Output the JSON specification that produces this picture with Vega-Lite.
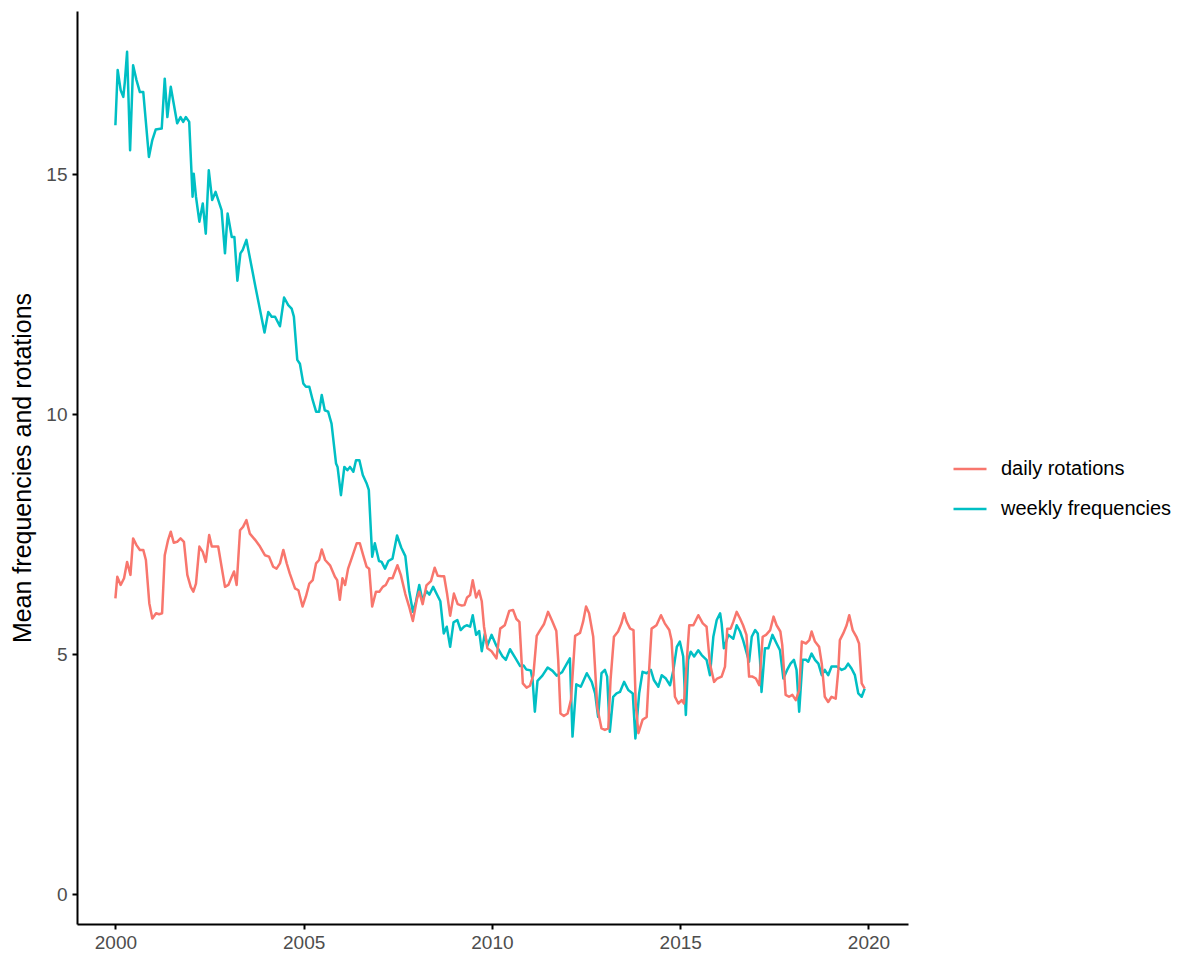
{
  "$schema": "https://vega.github.io/schema/vega-lite/v6.json",
  "autosize": "none",
  "width": 831,
  "height": 913,
  "padding": {"left": 77, "top": 11, "right": 281, "bottom": 33},
  "background": "white",
  "config": {
    "view": {"stroke": null},
    "font": "Liberation Sans",
    "axis": {
      "grid": false,
      "domainColor": "black",
      "domainWidth": 2,
      "tickColor": "black",
      "tickWidth": 2,
      "tickSize": 5,
      "labelFont": "Liberation Sans",
      "labelFontSize": 19,
      "labelColor": "#4d4d4d",
      "titleFont": "Liberation Sans",
      "titleFontSize": 25,
      "titleFontWeight": "normal",
      "titleColor": "black"
    },
    "legend": {
      "labelFont": "Liberation Sans",
      "labelFontSize": 20,
      "labelColor": "black",
      "labelLimit": 0
    }
  },
  "data": {
    "values": [
      {"series": "weekly frequencies", "year": 2000.00, "value": 16.02},
      {"series": "weekly frequencies", "year": 2000.06, "value": 17.17},
      {"series": "weekly frequencies", "year": 2000.14, "value": 16.75},
      {"series": "weekly frequencies", "year": 2000.21, "value": 16.61},
      {"series": "weekly frequencies", "year": 2000.25, "value": 16.92},
      {"series": "weekly frequencies", "year": 2000.31, "value": 17.55},
      {"series": "weekly frequencies", "year": 2000.39, "value": 15.50},
      {"series": "weekly frequencies", "year": 2000.47, "value": 17.27},
      {"series": "weekly frequencies", "year": 2000.56, "value": 16.96},
      {"series": "weekly frequencies", "year": 2000.65, "value": 16.71},
      {"series": "weekly frequencies", "year": 2000.74, "value": 16.71},
      {"series": "weekly frequencies", "year": 2000.89, "value": 15.36},
      {"series": "weekly frequencies", "year": 2000.98, "value": 15.71},
      {"series": "weekly frequencies", "year": 2001.07, "value": 15.93},
      {"series": "weekly frequencies", "year": 2001.23, "value": 15.95},
      {"series": "weekly frequencies", "year": 2001.31, "value": 16.99},
      {"series": "weekly frequencies", "year": 2001.38, "value": 16.19},
      {"series": "weekly frequencies", "year": 2001.47, "value": 16.82},
      {"series": "weekly frequencies", "year": 2001.64, "value": 16.06},
      {"series": "weekly frequencies", "year": 2001.73, "value": 16.19},
      {"series": "weekly frequencies", "year": 2001.80, "value": 16.09},
      {"series": "weekly frequencies", "year": 2001.87, "value": 16.19},
      {"series": "weekly frequencies", "year": 2001.96, "value": 16.09},
      {"series": "weekly frequencies", "year": 2002.05, "value": 14.53},
      {"series": "weekly frequencies", "year": 2002.08, "value": 15.01},
      {"series": "weekly frequencies", "year": 2002.14, "value": 14.53},
      {"series": "weekly frequencies", "year": 2002.23, "value": 14.01},
      {"series": "weekly frequencies", "year": 2002.32, "value": 14.39},
      {"series": "weekly frequencies", "year": 2002.40, "value": 13.76},
      {"series": "weekly frequencies", "year": 2002.48, "value": 15.08},
      {"series": "weekly frequencies", "year": 2002.57, "value": 14.46},
      {"series": "weekly frequencies", "year": 2002.66, "value": 14.63},
      {"series": "weekly frequencies", "year": 2002.82, "value": 14.25},
      {"series": "weekly frequencies", "year": 2002.91, "value": 13.35},
      {"series": "weekly frequencies", "year": 2002.98, "value": 14.18},
      {"series": "weekly frequencies", "year": 2003.09, "value": 13.69},
      {"series": "weekly frequencies", "year": 2003.16, "value": 13.69},
      {"series": "weekly frequencies", "year": 2003.24, "value": 12.78},
      {"series": "weekly frequencies", "year": 2003.32, "value": 13.35},
      {"series": "weekly frequencies", "year": 2003.38, "value": 13.42},
      {"series": "weekly frequencies", "year": 2003.48, "value": 13.63},
      {"series": "weekly frequencies", "year": 2003.72, "value": 12.65},
      {"series": "weekly frequencies", "year": 2003.96, "value": 11.70},
      {"series": "weekly frequencies", "year": 2004.06, "value": 12.13},
      {"series": "weekly frequencies", "year": 2004.15, "value": 12.03},
      {"series": "weekly frequencies", "year": 2004.24, "value": 12.03},
      {"series": "weekly frequencies", "year": 2004.37, "value": 11.83},
      {"series": "weekly frequencies", "year": 2004.48, "value": 12.43},
      {"series": "weekly frequencies", "year": 2004.59, "value": 12.27},
      {"series": "weekly frequencies", "year": 2004.68, "value": 12.20},
      {"series": "weekly frequencies", "year": 2004.74, "value": 12.03},
      {"series": "weekly frequencies", "year": 2004.83, "value": 11.13},
      {"series": "weekly frequencies", "year": 2004.90, "value": 11.05},
      {"series": "weekly frequencies", "year": 2004.99, "value": 10.64},
      {"series": "weekly frequencies", "year": 2005.06, "value": 10.57},
      {"series": "weekly frequencies", "year": 2005.15, "value": 10.57},
      {"series": "weekly frequencies", "year": 2005.24, "value": 10.29},
      {"series": "weekly frequencies", "year": 2005.33, "value": 10.05},
      {"series": "weekly frequencies", "year": 2005.41, "value": 10.05},
      {"series": "weekly frequencies", "year": 2005.48, "value": 10.40},
      {"series": "weekly frequencies", "year": 2005.56, "value": 10.08},
      {"series": "weekly frequencies", "year": 2005.65, "value": 10.05},
      {"series": "weekly frequencies", "year": 2005.74, "value": 9.80},
      {"series": "weekly frequencies", "year": 2005.86, "value": 8.97},
      {"series": "weekly frequencies", "year": 2005.90, "value": 8.90},
      {"series": "weekly frequencies", "year": 2005.99, "value": 8.31},
      {"series": "weekly frequencies", "year": 2006.08, "value": 8.90},
      {"series": "weekly frequencies", "year": 2006.16, "value": 8.83},
      {"series": "weekly frequencies", "year": 2006.23, "value": 8.90},
      {"series": "weekly frequencies", "year": 2006.32, "value": 8.80},
      {"series": "weekly frequencies", "year": 2006.39, "value": 9.04},
      {"series": "weekly frequencies", "year": 2006.48, "value": 9.04},
      {"series": "weekly frequencies", "year": 2006.57, "value": 8.73},
      {"series": "weekly frequencies", "year": 2006.67, "value": 8.56},
      {"series": "weekly frequencies", "year": 2006.73, "value": 8.42},
      {"series": "weekly frequencies", "year": 2006.82, "value": 7.03},
      {"series": "weekly frequencies", "year": 2006.89, "value": 7.31},
      {"series": "weekly frequencies", "year": 2007.00, "value": 6.94},
      {"series": "weekly frequencies", "year": 2007.07, "value": 6.92},
      {"series": "weekly frequencies", "year": 2007.16, "value": 6.78},
      {"series": "weekly frequencies", "year": 2007.25, "value": 6.94},
      {"series": "weekly frequencies", "year": 2007.36, "value": 6.99},
      {"series": "weekly frequencies", "year": 2007.48, "value": 7.47},
      {"series": "weekly frequencies", "year": 2007.59, "value": 7.22},
      {"series": "weekly frequencies", "year": 2007.70, "value": 7.04},
      {"series": "weekly frequencies", "year": 2007.80, "value": 6.33},
      {"series": "weekly frequencies", "year": 2007.90, "value": 5.88},
      {"series": "weekly frequencies", "year": 2007.98, "value": 6.09},
      {"series": "weekly frequencies", "year": 2008.07, "value": 6.44},
      {"series": "weekly frequencies", "year": 2008.15, "value": 6.13},
      {"series": "weekly frequencies", "year": 2008.26, "value": 6.31},
      {"series": "weekly frequencies", "year": 2008.34, "value": 6.24},
      {"series": "weekly frequencies", "year": 2008.44, "value": 6.40},
      {"series": "weekly frequencies", "year": 2008.54, "value": 6.24},
      {"series": "weekly frequencies", "year": 2008.63, "value": 6.10},
      {"series": "weekly frequencies", "year": 2008.72, "value": 5.43},
      {"series": "weekly frequencies", "year": 2008.80, "value": 5.57},
      {"series": "weekly frequencies", "year": 2008.89, "value": 5.15},
      {"series": "weekly frequencies", "year": 2008.98, "value": 5.66},
      {"series": "weekly frequencies", "year": 2009.08, "value": 5.71},
      {"series": "weekly frequencies", "year": 2009.17, "value": 5.50},
      {"series": "weekly frequencies", "year": 2009.26, "value": 5.57},
      {"series": "weekly frequencies", "year": 2009.33, "value": 5.60},
      {"series": "weekly frequencies", "year": 2009.42, "value": 5.57},
      {"series": "weekly frequencies", "year": 2009.49, "value": 5.81},
      {"series": "weekly frequencies", "year": 2009.58, "value": 5.40},
      {"series": "weekly frequencies", "year": 2009.66, "value": 5.48},
      {"series": "weekly frequencies", "year": 2009.73, "value": 5.06},
      {"series": "weekly frequencies", "year": 2009.81, "value": 5.42},
      {"series": "weekly frequencies", "year": 2009.88, "value": 5.18},
      {"series": "weekly frequencies", "year": 2009.99, "value": 5.40},
      {"series": "weekly frequencies", "year": 2010.12, "value": 5.17},
      {"series": "weekly frequencies", "year": 2010.28, "value": 4.95},
      {"series": "weekly frequencies", "year": 2010.37, "value": 4.88},
      {"series": "weekly frequencies", "year": 2010.48, "value": 5.10},
      {"series": "weekly frequencies", "year": 2010.62, "value": 4.92},
      {"series": "weekly frequencies", "year": 2010.75, "value": 4.75},
      {"series": "weekly frequencies", "year": 2010.84, "value": 4.76},
      {"series": "weekly frequencies", "year": 2010.91, "value": 4.68},
      {"series": "weekly frequencies", "year": 2011.03, "value": 4.66},
      {"series": "weekly frequencies", "year": 2011.08, "value": 4.46},
      {"series": "weekly frequencies", "year": 2011.14, "value": 3.80},
      {"series": "weekly frequencies", "year": 2011.21, "value": 4.44},
      {"series": "weekly frequencies", "year": 2011.34, "value": 4.55},
      {"series": "weekly frequencies", "year": 2011.48, "value": 4.72},
      {"series": "weekly frequencies", "year": 2011.61, "value": 4.65},
      {"series": "weekly frequencies", "year": 2011.72, "value": 4.55},
      {"series": "weekly frequencies", "year": 2011.86, "value": 4.62},
      {"series": "weekly frequencies", "year": 2011.99, "value": 4.80},
      {"series": "weekly frequencies", "year": 2012.07, "value": 4.91},
      {"series": "weekly frequencies", "year": 2012.14, "value": 3.28},
      {"series": "weekly frequencies", "year": 2012.24, "value": 4.37},
      {"series": "weekly frequencies", "year": 2012.36, "value": 4.32},
      {"series": "weekly frequencies", "year": 2012.52, "value": 4.60},
      {"series": "weekly frequencies", "year": 2012.65, "value": 4.42},
      {"series": "weekly frequencies", "year": 2012.74, "value": 4.18},
      {"series": "weekly frequencies", "year": 2012.82, "value": 3.69},
      {"series": "weekly frequencies", "year": 2012.91, "value": 4.60},
      {"series": "weekly frequencies", "year": 2013.00, "value": 4.67},
      {"series": "weekly frequencies", "year": 2013.06, "value": 4.53},
      {"series": "weekly frequencies", "year": 2013.13, "value": 3.38},
      {"series": "weekly frequencies", "year": 2013.22, "value": 4.11},
      {"series": "weekly frequencies", "year": 2013.31, "value": 4.18},
      {"series": "weekly frequencies", "year": 2013.40, "value": 4.21},
      {"series": "weekly frequencies", "year": 2013.51, "value": 4.42},
      {"series": "weekly frequencies", "year": 2013.62, "value": 4.25},
      {"series": "weekly frequencies", "year": 2013.74, "value": 4.18},
      {"series": "weekly frequencies", "year": 2013.81, "value": 3.24},
      {"series": "weekly frequencies", "year": 2013.91, "value": 4.18},
      {"series": "weekly frequencies", "year": 2014.00, "value": 4.63},
      {"series": "weekly frequencies", "year": 2014.11, "value": 4.60},
      {"series": "weekly frequencies", "year": 2014.22, "value": 4.67},
      {"series": "weekly frequencies", "year": 2014.30, "value": 4.46},
      {"series": "weekly frequencies", "year": 2014.42, "value": 4.32},
      {"series": "weekly frequencies", "year": 2014.51, "value": 4.56},
      {"series": "weekly frequencies", "year": 2014.62, "value": 4.49},
      {"series": "weekly frequencies", "year": 2014.73, "value": 4.35},
      {"series": "weekly frequencies", "year": 2014.82, "value": 4.67},
      {"series": "weekly frequencies", "year": 2014.91, "value": 5.15},
      {"series": "weekly frequencies", "year": 2014.99, "value": 5.26},
      {"series": "weekly frequencies", "year": 2015.08, "value": 4.95},
      {"series": "weekly frequencies", "year": 2015.15, "value": 3.73},
      {"series": "weekly frequencies", "year": 2015.21, "value": 4.88},
      {"series": "weekly frequencies", "year": 2015.28, "value": 5.05},
      {"series": "weekly frequencies", "year": 2015.37, "value": 4.95},
      {"series": "weekly frequencies", "year": 2015.48, "value": 5.08},
      {"series": "weekly frequencies", "year": 2015.57, "value": 4.98},
      {"series": "weekly frequencies", "year": 2015.70, "value": 4.88},
      {"series": "weekly frequencies", "year": 2015.79, "value": 4.56},
      {"series": "weekly frequencies", "year": 2015.88, "value": 5.36},
      {"series": "weekly frequencies", "year": 2015.97, "value": 5.71},
      {"series": "weekly frequencies", "year": 2016.06, "value": 5.85},
      {"series": "weekly frequencies", "year": 2016.10, "value": 5.64},
      {"series": "weekly frequencies", "year": 2016.16, "value": 5.12},
      {"series": "weekly frequencies", "year": 2016.28, "value": 5.40},
      {"series": "weekly frequencies", "year": 2016.41, "value": 5.32},
      {"series": "weekly frequencies", "year": 2016.50, "value": 5.60},
      {"series": "weekly frequencies", "year": 2016.59, "value": 5.47},
      {"series": "weekly frequencies", "year": 2016.67, "value": 5.29},
      {"series": "weekly frequencies", "year": 2016.77, "value": 5.01},
      {"series": "weekly frequencies", "year": 2016.83, "value": 4.84},
      {"series": "weekly frequencies", "year": 2016.90, "value": 5.36},
      {"series": "weekly frequencies", "year": 2016.99, "value": 5.50},
      {"series": "weekly frequencies", "year": 2017.06, "value": 5.43},
      {"series": "weekly frequencies", "year": 2017.12, "value": 4.88},
      {"series": "weekly frequencies", "year": 2017.16, "value": 4.21},
      {"series": "weekly frequencies", "year": 2017.25, "value": 5.12},
      {"series": "weekly frequencies", "year": 2017.34, "value": 5.12},
      {"series": "weekly frequencies", "year": 2017.45, "value": 5.40},
      {"series": "weekly frequencies", "year": 2017.56, "value": 5.22},
      {"series": "weekly frequencies", "year": 2017.65, "value": 5.08},
      {"series": "weekly frequencies", "year": 2017.74, "value": 4.49},
      {"series": "weekly frequencies", "year": 2017.84, "value": 4.67},
      {"series": "weekly frequencies", "year": 2017.93, "value": 4.80},
      {"series": "weekly frequencies", "year": 2018.02, "value": 4.88},
      {"series": "weekly frequencies", "year": 2018.09, "value": 4.67},
      {"series": "weekly frequencies", "year": 2018.16, "value": 3.80},
      {"series": "weekly frequencies", "year": 2018.25, "value": 4.88},
      {"series": "weekly frequencies", "year": 2018.34, "value": 4.88},
      {"series": "weekly frequencies", "year": 2018.40, "value": 4.84},
      {"series": "weekly frequencies", "year": 2018.49, "value": 5.01},
      {"series": "weekly frequencies", "year": 2018.58, "value": 4.88},
      {"series": "weekly frequencies", "year": 2018.67, "value": 4.80},
      {"series": "weekly frequencies", "year": 2018.76, "value": 4.56},
      {"series": "weekly frequencies", "year": 2018.84, "value": 4.67},
      {"series": "weekly frequencies", "year": 2018.93, "value": 4.56},
      {"series": "weekly frequencies", "year": 2019.02, "value": 4.74},
      {"series": "weekly frequencies", "year": 2019.16, "value": 4.74},
      {"series": "weekly frequencies", "year": 2019.29, "value": 4.67},
      {"series": "weekly frequencies", "year": 2019.38, "value": 4.70},
      {"series": "weekly frequencies", "year": 2019.46, "value": 4.80},
      {"series": "weekly frequencies", "year": 2019.55, "value": 4.70},
      {"series": "weekly frequencies", "year": 2019.64, "value": 4.56},
      {"series": "weekly frequencies", "year": 2019.73, "value": 4.18},
      {"series": "weekly frequencies", "year": 2019.82, "value": 4.11},
      {"series": "weekly frequencies", "year": 2019.90, "value": 4.28},

      {"series": "daily rotations", "year": 2000.00, "value": 6.16},
      {"series": "daily rotations", "year": 2000.05, "value": 6.61},
      {"series": "daily rotations", "year": 2000.14, "value": 6.44},
      {"series": "daily rotations", "year": 2000.23, "value": 6.58},
      {"series": "daily rotations", "year": 2000.31, "value": 6.92},
      {"series": "daily rotations", "year": 2000.40, "value": 6.65},
      {"series": "daily rotations", "year": 2000.47, "value": 7.41},
      {"series": "daily rotations", "year": 2000.56, "value": 7.27},
      {"series": "daily rotations", "year": 2000.65, "value": 7.17},
      {"series": "daily rotations", "year": 2000.74, "value": 7.17},
      {"series": "daily rotations", "year": 2000.81, "value": 6.96},
      {"series": "daily rotations", "year": 2000.90, "value": 6.06},
      {"series": "daily rotations", "year": 2000.98, "value": 5.74},
      {"series": "daily rotations", "year": 2001.08, "value": 5.85},
      {"series": "daily rotations", "year": 2001.16, "value": 5.83},
      {"series": "daily rotations", "year": 2001.24, "value": 5.85},
      {"series": "daily rotations", "year": 2001.31, "value": 7.06},
      {"series": "daily rotations", "year": 2001.40, "value": 7.38},
      {"series": "daily rotations", "year": 2001.47, "value": 7.55},
      {"series": "daily rotations", "year": 2001.55, "value": 7.32},
      {"series": "daily rotations", "year": 2001.64, "value": 7.34},
      {"series": "daily rotations", "year": 2001.73, "value": 7.41},
      {"series": "daily rotations", "year": 2001.82, "value": 7.34},
      {"series": "daily rotations", "year": 2001.91, "value": 6.65},
      {"series": "daily rotations", "year": 2002.00, "value": 6.40},
      {"series": "daily rotations", "year": 2002.07, "value": 6.30},
      {"series": "daily rotations", "year": 2002.14, "value": 6.47},
      {"series": "daily rotations", "year": 2002.23, "value": 7.24},
      {"series": "daily rotations", "year": 2002.32, "value": 7.13},
      {"series": "daily rotations", "year": 2002.40, "value": 6.92},
      {"series": "daily rotations", "year": 2002.49, "value": 7.48},
      {"series": "daily rotations", "year": 2002.56, "value": 7.24},
      {"series": "daily rotations", "year": 2002.64, "value": 7.24},
      {"series": "daily rotations", "year": 2002.73, "value": 7.24},
      {"series": "daily rotations", "year": 2002.82, "value": 6.82},
      {"series": "daily rotations", "year": 2002.91, "value": 6.40},
      {"series": "daily rotations", "year": 2003.00, "value": 6.44},
      {"series": "daily rotations", "year": 2003.09, "value": 6.61},
      {"series": "daily rotations", "year": 2003.15, "value": 6.72},
      {"series": "daily rotations", "year": 2003.22, "value": 6.44},
      {"series": "daily rotations", "year": 2003.31, "value": 7.58},
      {"series": "daily rotations", "year": 2003.39, "value": 7.65},
      {"series": "daily rotations", "year": 2003.48, "value": 7.79},
      {"series": "daily rotations", "year": 2003.57, "value": 7.51},
      {"series": "daily rotations", "year": 2003.71, "value": 7.38},
      {"series": "daily rotations", "year": 2003.84, "value": 7.24},
      {"series": "daily rotations", "year": 2003.97, "value": 7.06},
      {"series": "daily rotations", "year": 2004.08, "value": 7.03},
      {"series": "daily rotations", "year": 2004.19, "value": 6.82},
      {"series": "daily rotations", "year": 2004.28, "value": 6.78},
      {"series": "daily rotations", "year": 2004.37, "value": 6.89},
      {"series": "daily rotations", "year": 2004.46, "value": 7.17},
      {"series": "daily rotations", "year": 2004.55, "value": 6.89},
      {"series": "daily rotations", "year": 2004.63, "value": 6.68},
      {"series": "daily rotations", "year": 2004.77, "value": 6.37},
      {"series": "daily rotations", "year": 2004.86, "value": 6.33},
      {"series": "daily rotations", "year": 2004.97, "value": 5.99},
      {"series": "daily rotations", "year": 2005.06, "value": 6.20},
      {"series": "daily rotations", "year": 2005.15, "value": 6.47},
      {"series": "daily rotations", "year": 2005.24, "value": 6.54},
      {"series": "daily rotations", "year": 2005.33, "value": 6.89},
      {"series": "daily rotations", "year": 2005.41, "value": 6.96},
      {"series": "daily rotations", "year": 2005.48, "value": 7.18},
      {"series": "daily rotations", "year": 2005.57, "value": 6.96},
      {"series": "daily rotations", "year": 2005.70, "value": 6.85},
      {"series": "daily rotations", "year": 2005.83, "value": 6.61},
      {"series": "daily rotations", "year": 2005.89, "value": 6.54},
      {"series": "daily rotations", "year": 2005.96, "value": 6.13},
      {"series": "daily rotations", "year": 2006.03, "value": 6.58},
      {"series": "daily rotations", "year": 2006.10, "value": 6.44},
      {"series": "daily rotations", "year": 2006.18, "value": 6.78},
      {"series": "daily rotations", "year": 2006.29, "value": 7.03},
      {"series": "daily rotations", "year": 2006.41, "value": 7.31},
      {"series": "daily rotations", "year": 2006.49, "value": 7.31},
      {"series": "daily rotations", "year": 2006.58, "value": 7.06},
      {"series": "daily rotations", "year": 2006.67, "value": 6.82},
      {"series": "daily rotations", "year": 2006.74, "value": 6.78},
      {"series": "daily rotations", "year": 2006.82, "value": 5.99},
      {"series": "daily rotations", "year": 2006.92, "value": 6.30},
      {"series": "daily rotations", "year": 2007.01, "value": 6.30},
      {"series": "daily rotations", "year": 2007.10, "value": 6.40},
      {"series": "daily rotations", "year": 2007.18, "value": 6.44},
      {"series": "daily rotations", "year": 2007.27, "value": 6.58},
      {"series": "daily rotations", "year": 2007.36, "value": 6.58},
      {"series": "daily rotations", "year": 2007.49, "value": 6.85},
      {"series": "daily rotations", "year": 2007.58, "value": 6.65},
      {"series": "daily rotations", "year": 2007.70, "value": 6.25},
      {"series": "daily rotations", "year": 2007.80, "value": 5.99},
      {"series": "daily rotations", "year": 2007.90, "value": 5.69},
      {"series": "daily rotations", "year": 2008.01, "value": 6.15},
      {"series": "daily rotations", "year": 2008.07, "value": 6.30},
      {"series": "daily rotations", "year": 2008.16, "value": 6.04},
      {"series": "daily rotations", "year": 2008.26, "value": 6.43},
      {"series": "daily rotations", "year": 2008.38, "value": 6.52},
      {"series": "daily rotations", "year": 2008.48, "value": 6.80},
      {"series": "daily rotations", "year": 2008.56, "value": 6.63},
      {"series": "daily rotations", "year": 2008.66, "value": 6.62},
      {"series": "daily rotations", "year": 2008.73, "value": 6.62},
      {"series": "daily rotations", "year": 2008.81, "value": 6.25},
      {"series": "daily rotations", "year": 2008.89, "value": 5.80},
      {"series": "daily rotations", "year": 2008.99, "value": 6.26},
      {"series": "daily rotations", "year": 2009.09, "value": 6.04},
      {"series": "daily rotations", "year": 2009.20, "value": 6.01},
      {"series": "daily rotations", "year": 2009.27, "value": 6.02},
      {"series": "daily rotations", "year": 2009.34, "value": 6.18},
      {"series": "daily rotations", "year": 2009.42, "value": 6.23},
      {"series": "daily rotations", "year": 2009.49, "value": 6.54},
      {"series": "daily rotations", "year": 2009.58, "value": 6.18},
      {"series": "daily rotations", "year": 2009.66, "value": 6.32},
      {"series": "daily rotations", "year": 2009.73, "value": 6.10},
      {"series": "daily rotations", "year": 2009.79, "value": 5.57},
      {"series": "daily rotations", "year": 2009.88, "value": 5.12},
      {"series": "daily rotations", "year": 2009.99, "value": 5.06},
      {"series": "daily rotations", "year": 2010.12, "value": 4.91},
      {"series": "daily rotations", "year": 2010.22, "value": 5.53},
      {"series": "daily rotations", "year": 2010.34, "value": 5.60},
      {"series": "daily rotations", "year": 2010.46, "value": 5.90},
      {"series": "daily rotations", "year": 2010.56, "value": 5.92},
      {"series": "daily rotations", "year": 2010.65, "value": 5.73},
      {"series": "daily rotations", "year": 2010.73, "value": 5.67},
      {"series": "daily rotations", "year": 2010.82, "value": 4.39},
      {"series": "daily rotations", "year": 2010.92, "value": 4.30},
      {"series": "daily rotations", "year": 2011.01, "value": 4.34},
      {"series": "daily rotations", "year": 2011.10, "value": 4.56},
      {"series": "daily rotations", "year": 2011.19, "value": 5.38},
      {"series": "daily rotations", "year": 2011.28, "value": 5.50},
      {"series": "daily rotations", "year": 2011.38, "value": 5.62},
      {"series": "daily rotations", "year": 2011.49, "value": 5.88},
      {"series": "daily rotations", "year": 2011.60, "value": 5.69},
      {"series": "daily rotations", "year": 2011.71, "value": 5.48},
      {"series": "daily rotations", "year": 2011.76, "value": 4.88},
      {"series": "daily rotations", "year": 2011.82, "value": 3.76},
      {"series": "daily rotations", "year": 2011.91, "value": 3.71},
      {"series": "daily rotations", "year": 2012.01, "value": 3.76},
      {"series": "daily rotations", "year": 2012.10, "value": 4.05},
      {"series": "daily rotations", "year": 2012.21, "value": 5.38},
      {"series": "daily rotations", "year": 2012.34, "value": 5.44},
      {"series": "daily rotations", "year": 2012.42, "value": 5.67},
      {"series": "daily rotations", "year": 2012.50, "value": 5.99},
      {"series": "daily rotations", "year": 2012.58, "value": 5.85},
      {"series": "daily rotations", "year": 2012.69, "value": 5.36},
      {"series": "daily rotations", "year": 2012.80, "value": 3.87},
      {"series": "daily rotations", "year": 2012.91, "value": 3.45},
      {"series": "daily rotations", "year": 2013.00, "value": 3.42},
      {"series": "daily rotations", "year": 2013.09, "value": 3.45},
      {"series": "daily rotations", "year": 2013.15, "value": 4.46},
      {"series": "daily rotations", "year": 2013.24, "value": 5.36},
      {"series": "daily rotations", "year": 2013.35, "value": 5.47},
      {"series": "daily rotations", "year": 2013.44, "value": 5.64},
      {"series": "daily rotations", "year": 2013.51, "value": 5.85},
      {"series": "daily rotations", "year": 2013.58, "value": 5.67},
      {"series": "daily rotations", "year": 2013.67, "value": 5.53},
      {"series": "daily rotations", "year": 2013.76, "value": 5.50},
      {"series": "daily rotations", "year": 2013.82, "value": 3.94},
      {"series": "daily rotations", "year": 2013.89, "value": 3.35},
      {"series": "daily rotations", "year": 2014.00, "value": 3.63},
      {"series": "daily rotations", "year": 2014.11, "value": 3.69},
      {"series": "daily rotations", "year": 2014.18, "value": 4.74},
      {"series": "daily rotations", "year": 2014.24, "value": 5.53},
      {"series": "daily rotations", "year": 2014.37, "value": 5.60},
      {"series": "daily rotations", "year": 2014.49, "value": 5.81},
      {"series": "daily rotations", "year": 2014.59, "value": 5.64},
      {"series": "daily rotations", "year": 2014.71, "value": 5.50},
      {"series": "daily rotations", "year": 2014.77, "value": 5.29},
      {"series": "daily rotations", "year": 2014.86, "value": 4.11},
      {"series": "daily rotations", "year": 2014.95, "value": 3.97},
      {"series": "daily rotations", "year": 2015.04, "value": 4.04},
      {"series": "daily rotations", "year": 2015.10, "value": 3.97},
      {"series": "daily rotations", "year": 2015.17, "value": 4.80},
      {"series": "daily rotations", "year": 2015.24, "value": 5.60},
      {"series": "daily rotations", "year": 2015.35, "value": 5.60},
      {"series": "daily rotations", "year": 2015.48, "value": 5.81},
      {"series": "daily rotations", "year": 2015.60, "value": 5.64},
      {"series": "daily rotations", "year": 2015.70, "value": 5.57},
      {"series": "daily rotations", "year": 2015.79, "value": 4.80},
      {"series": "daily rotations", "year": 2015.90, "value": 4.42},
      {"series": "daily rotations", "year": 2015.98, "value": 4.49},
      {"series": "daily rotations", "year": 2016.10, "value": 4.53},
      {"series": "daily rotations", "year": 2016.19, "value": 4.74},
      {"series": "daily rotations", "year": 2016.25, "value": 5.53},
      {"series": "daily rotations", "year": 2016.34, "value": 5.53},
      {"series": "daily rotations", "year": 2016.41, "value": 5.67},
      {"series": "daily rotations", "year": 2016.50, "value": 5.88},
      {"series": "daily rotations", "year": 2016.59, "value": 5.74},
      {"series": "daily rotations", "year": 2016.67, "value": 5.60},
      {"series": "daily rotations", "year": 2016.76, "value": 5.40},
      {"series": "daily rotations", "year": 2016.83, "value": 4.53},
      {"series": "daily rotations", "year": 2016.92, "value": 4.53},
      {"series": "daily rotations", "year": 2017.01, "value": 4.49},
      {"series": "daily rotations", "year": 2017.10, "value": 4.35},
      {"series": "daily rotations", "year": 2017.19, "value": 5.36},
      {"series": "daily rotations", "year": 2017.28, "value": 5.40},
      {"series": "daily rotations", "year": 2017.39, "value": 5.50},
      {"series": "daily rotations", "year": 2017.48, "value": 5.78},
      {"series": "daily rotations", "year": 2017.56, "value": 5.60},
      {"series": "daily rotations", "year": 2017.66, "value": 5.47},
      {"series": "daily rotations", "year": 2017.71, "value": 5.19},
      {"series": "daily rotations", "year": 2017.80, "value": 4.15},
      {"series": "daily rotations", "year": 2017.89, "value": 4.11},
      {"series": "daily rotations", "year": 2017.98, "value": 4.15},
      {"series": "daily rotations", "year": 2018.07, "value": 4.04},
      {"series": "daily rotations", "year": 2018.16, "value": 4.25},
      {"series": "daily rotations", "year": 2018.23, "value": 5.26},
      {"series": "daily rotations", "year": 2018.34, "value": 5.22},
      {"series": "daily rotations", "year": 2018.43, "value": 5.29},
      {"series": "daily rotations", "year": 2018.49, "value": 5.47},
      {"series": "daily rotations", "year": 2018.58, "value": 5.26},
      {"series": "daily rotations", "year": 2018.69, "value": 5.15},
      {"series": "daily rotations", "year": 2018.76, "value": 4.80},
      {"series": "daily rotations", "year": 2018.84, "value": 4.11},
      {"series": "daily rotations", "year": 2018.93, "value": 4.00},
      {"series": "daily rotations", "year": 2019.02, "value": 4.11},
      {"series": "daily rotations", "year": 2019.13, "value": 4.07},
      {"series": "daily rotations", "year": 2019.20, "value": 4.67},
      {"series": "daily rotations", "year": 2019.24, "value": 5.29},
      {"series": "daily rotations", "year": 2019.33, "value": 5.43},
      {"series": "daily rotations", "year": 2019.42, "value": 5.60},
      {"series": "daily rotations", "year": 2019.49, "value": 5.81},
      {"series": "daily rotations", "year": 2019.58, "value": 5.50},
      {"series": "daily rotations", "year": 2019.68, "value": 5.36},
      {"series": "daily rotations", "year": 2019.75, "value": 5.22},
      {"series": "daily rotations", "year": 2019.82, "value": 4.39},
      {"series": "daily rotations", "year": 2019.90, "value": 4.28}
    ]
  },
  "mark": {"type": "line", "strokeWidth": 2.5, "strokeJoin": "round"},
  "encoding": {
    "x": {
      "field": "year",
      "type": "quantitative",
      "scale": {"domain": [1998.98, 2021.05], "nice": false, "zero": false},
      "axis": {
        "title": null,
        "values": [2000, 2005, 2010, 2015, 2020],
        "format": "d",
        "labelPadding": 4
      }
    },
    "y": {
      "field": "value",
      "type": "quantitative",
      "scale": {"domain": [-0.625, 18.4], "nice": false, "zero": false},
      "axis": {
        "title": "Mean frequencies and rotations",
        "values": [0, 5, 10, 15],
        "labelPadding": 5,
        "titlePadding": 10
      }
    },
    "color": {
      "field": "series",
      "type": "nominal",
      "scale": {
        "domain": ["daily rotations", "weekly frequencies"],
        "range": ["#F8766D", "#00BFC4"]
      },
      "legend": {
        "title": null,
        "orient": "none",
        "legendX": 875,
        "legendY": 440,
        "symbolType": "stroke",
        "symbolSize": 1089,
        "symbolStrokeWidth": 2.5,
        "rowPadding": 12,
        "labelOffset": 13
      }
    }
  }
}
